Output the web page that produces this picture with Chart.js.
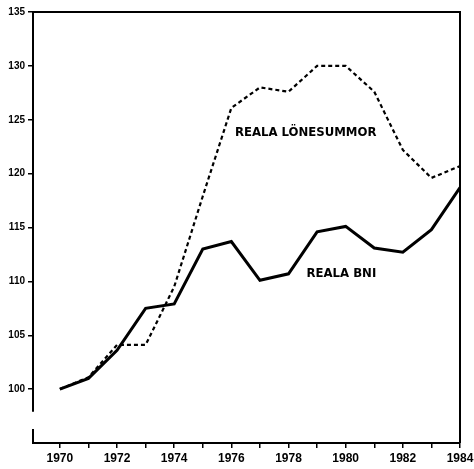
<!DOCTYPE html>
<html>
<head>
<meta charset="utf-8">
<script src="https://cdn.jsdelivr.net/npm/chart.js@4"></script>
<style>
  html,body{margin:0;padding:0;background:#fff;}
</style>
</head>
<body>
<canvas id="lineChart" width="474" height="469"></canvas>
<script>

const years=[1970,1971,1972,1973,1974,1975,1976,1977,1978,1979,1980,1981,1982,1983,1984];
const lonesummor=[100,101.1,104.1,104.1,109.5,117.9,126.1,128.0,127.6,130.0,130.0,127.6,122.2,119.6,120.7];
const bni=[100,101.0,103.6,107.5,107.9,113.0,113.7,110.1,110.7,114.6,115.1,113.1,112.7,114.8,118.7];
const yTicks=[100,105,110,115,120,125,130,135];
const labelTexts=["REALA LÖNESUMMOR","REALA BNI"];
const labelAt=[[1978.6,123.8],[1979.85,110.7]];

const narrow="'DejaVu Sans Condensed', 'Liberation Sans', Arial, sans-serif";
const font="'Liberation Sans', Arial, sans-serif";

function toPoints(v){
    return years.map((yr,i)=>({x:yr,y:v[i]}));
}

const extras={
    id:"extras",
    afterDraw(chart){
        const ctx=chart.ctx;
        const a=chart.chartArea;
        const xs=chart.scales.x, ys=chart.scales.y;
        ctx.save();
        // frame
        ctx.strokeStyle="#000";
        ctx.lineWidth=2;
        ctx.beginPath();
        ctx.moveTo(a.left,a.bottom);
        ctx.lineTo(a.left,a.top);
        ctx.lineTo(a.right,a.top);
        ctx.lineTo(a.right,a.bottom);
        ctx.stroke();
        // axis break
        ctx.fillStyle="#fff";
        ctx.fillRect(a.left-3,ys.getPixelForValue(97.9),6,ys.getPixelForValue(96.3)-ys.getPixelForValue(97.9));
        // series labels
        ctx.fillStyle="#000";
        ctx.font="bold 13px "+narrow;
        ctx.textAlign="center";
        ctx.textBaseline="middle";
        labelTexts.forEach((t,i)=>{
            ctx.fillText(t,xs.getPixelForValue(labelAt[i][0]),ys.getPixelForValue(labelAt[i][1]));
        });
        ctx.restore();
    }
};

new Chart(document.getElementById("lineChart"),{
    type:"line",
    data:{
        datasets:[{
            label:"Reala lönesumma",
            data:toPoints(lonesummor),
            borderColor:"#000",
            borderWidth:2.2,
            borderDash:[4,3],
            pointRadius:0,
            tension:0
        },{
            label:"Reala BNI",
            data:toPoints(bni),
            borderColor:"#000",
            borderWidth:3,
            pointRadius:0,
            tension:0
        }]
    },
    options:{
        responsive:false,
        animation:false,
        layout:{padding:{top:12,right:14,left:0,bottom:0}},
        plugins:{legend:{display:false},tooltip:{enabled:false}},
        scales:{
            x:{
                type:"linear",
                min:1969.06,
                max:1984,
                afterBuildTicks(s){s.ticks=years.map(v=>({value:v}));},
                afterFit(s){s.height=26;s.paddingRight=0;s.paddingLeft=0;},
                border:{display:true,color:"#000",width:2},
                grid:{drawOnChartArea:false,drawTicks:true,tickLength:5,color:"#000",lineWidth:1.5},
                ticks:{
                    color:"#000",
                    padding:3,
                    maxRotation:0,
                    autoSkip:false,
                    font:{family:font,size:12,weight:"bold"},
                    callback:v=>v%2===0?String(v):""
                }
            },
            y:{
                min:95,
                max:135,
                afterBuildTicks(s){s.ticks=yTicks.map(v=>({value:v}));},
                afterFit(s){s.width=33;s.paddingTop=0;s.paddingBottom=0;},
                border:{display:true,color:"#000",width:2},
                grid:{drawOnChartArea:false,drawTicks:true,tickLength:5,color:"#000",lineWidth:1.5},
                ticks:{
                    color:"#000",
                    padding:3,
                    font:{family:font,size:10,weight:"bold"}
                }
            }
        }
    },
    plugins:[extras]
});

</script>
</body>
</html>
